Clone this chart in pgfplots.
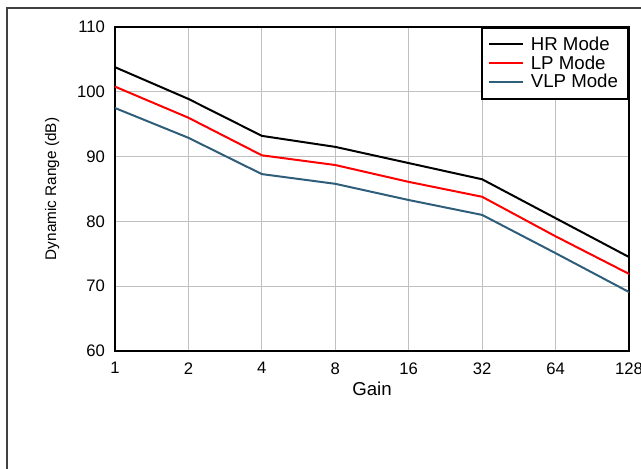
\documentclass[border=0pt]{standalone}
\usepackage{pgfplots}
\pgfplotsset{compat=1.18}
\usepackage{fontspec}
\setmainfont{Liberation Sans}
\definecolor{vlp}{RGB}{46,94,122}
\definecolor{gridc}{RGB}{192,192,192}
\begin{document}
\begin{tikzpicture}
\useasboundingbox (-86.25pt,-87.75pt) rectangle (394.5pt,263.25pt);
\draw[line width=0.8pt, black!75] (-81pt,-100pt) -- (-81pt,257.25pt) -- (420pt,257.25pt);
\begin{axis}[
  at={(0,0)}, anchor=south west,
  scale only axis,
  width=385.5pt, height=243pt,
  xmode=log, log basis x=2,
  xmin=1, xmax=128, ymin=60, ymax=110,
  xtick={1,2,4,8,16,32,64,128},
  xticklabels={1,2,4,8,16,32,64,128},
  ytick={60,70,80,90,100,110},
  /pgf/number format/assume math mode=true,
  tick label style={font=\fontsize{12.5}{13}\selectfont},
  xticklabel style={yshift=-5pt},
  yticklabel style={xshift=-4pt},
  major tick length=0pt,
  grid=major,
  major grid style={gridc, line width=0.7pt},
  axis line style={line width=2pt},
  xlabel={Gain},
  ylabel={Dynamic Range (dB)},
  xlabel style={font=\fontsize{14}{15}\selectfont, yshift=1pt},
  ylabel style={font=\fontsize{11.5}{12}\selectfont, yshift=6.5pt},
  legend style={at={(1,1)}, anchor=north east, draw=black, line width=1.5pt,
    font=\fontsize{14}{14}\selectfont, inner xsep=5pt, inner ysep=4pt, row sep=-2.5pt,
    column sep=3pt, nodes={inner sep=2.5pt}},
  legend image code/.code={\draw[#1, line width=1.5pt] (0pt,0pt) -- (25pt,0pt);},
  legend cell align=left,
]
\addplot[black, line width=1.5pt] coordinates {(1,103.8) (2,98.9) (4,93.2) (8,91.5) (16,89.0) (32,86.5) (64,80.5) (128,74.5)};
\addlegendentry{HR Mode}
\addplot[red, line width=1.5pt] coordinates {(1,100.8) (2,96.0) (4,90.2) (8,88.7) (16,86.1) (32,83.8) (64,77.7) (128,71.9)};
\addlegendentry{LP Mode}
\addplot[vlp, line width=1.5pt] coordinates {(1,97.5) (2,92.9) (4,87.3) (8,85.8) (16,83.3) (32,81.0) (64,75.1) (128,69.1)};
\addlegendentry{VLP Mode}
\end{axis}
\end{tikzpicture}
\end{document}
